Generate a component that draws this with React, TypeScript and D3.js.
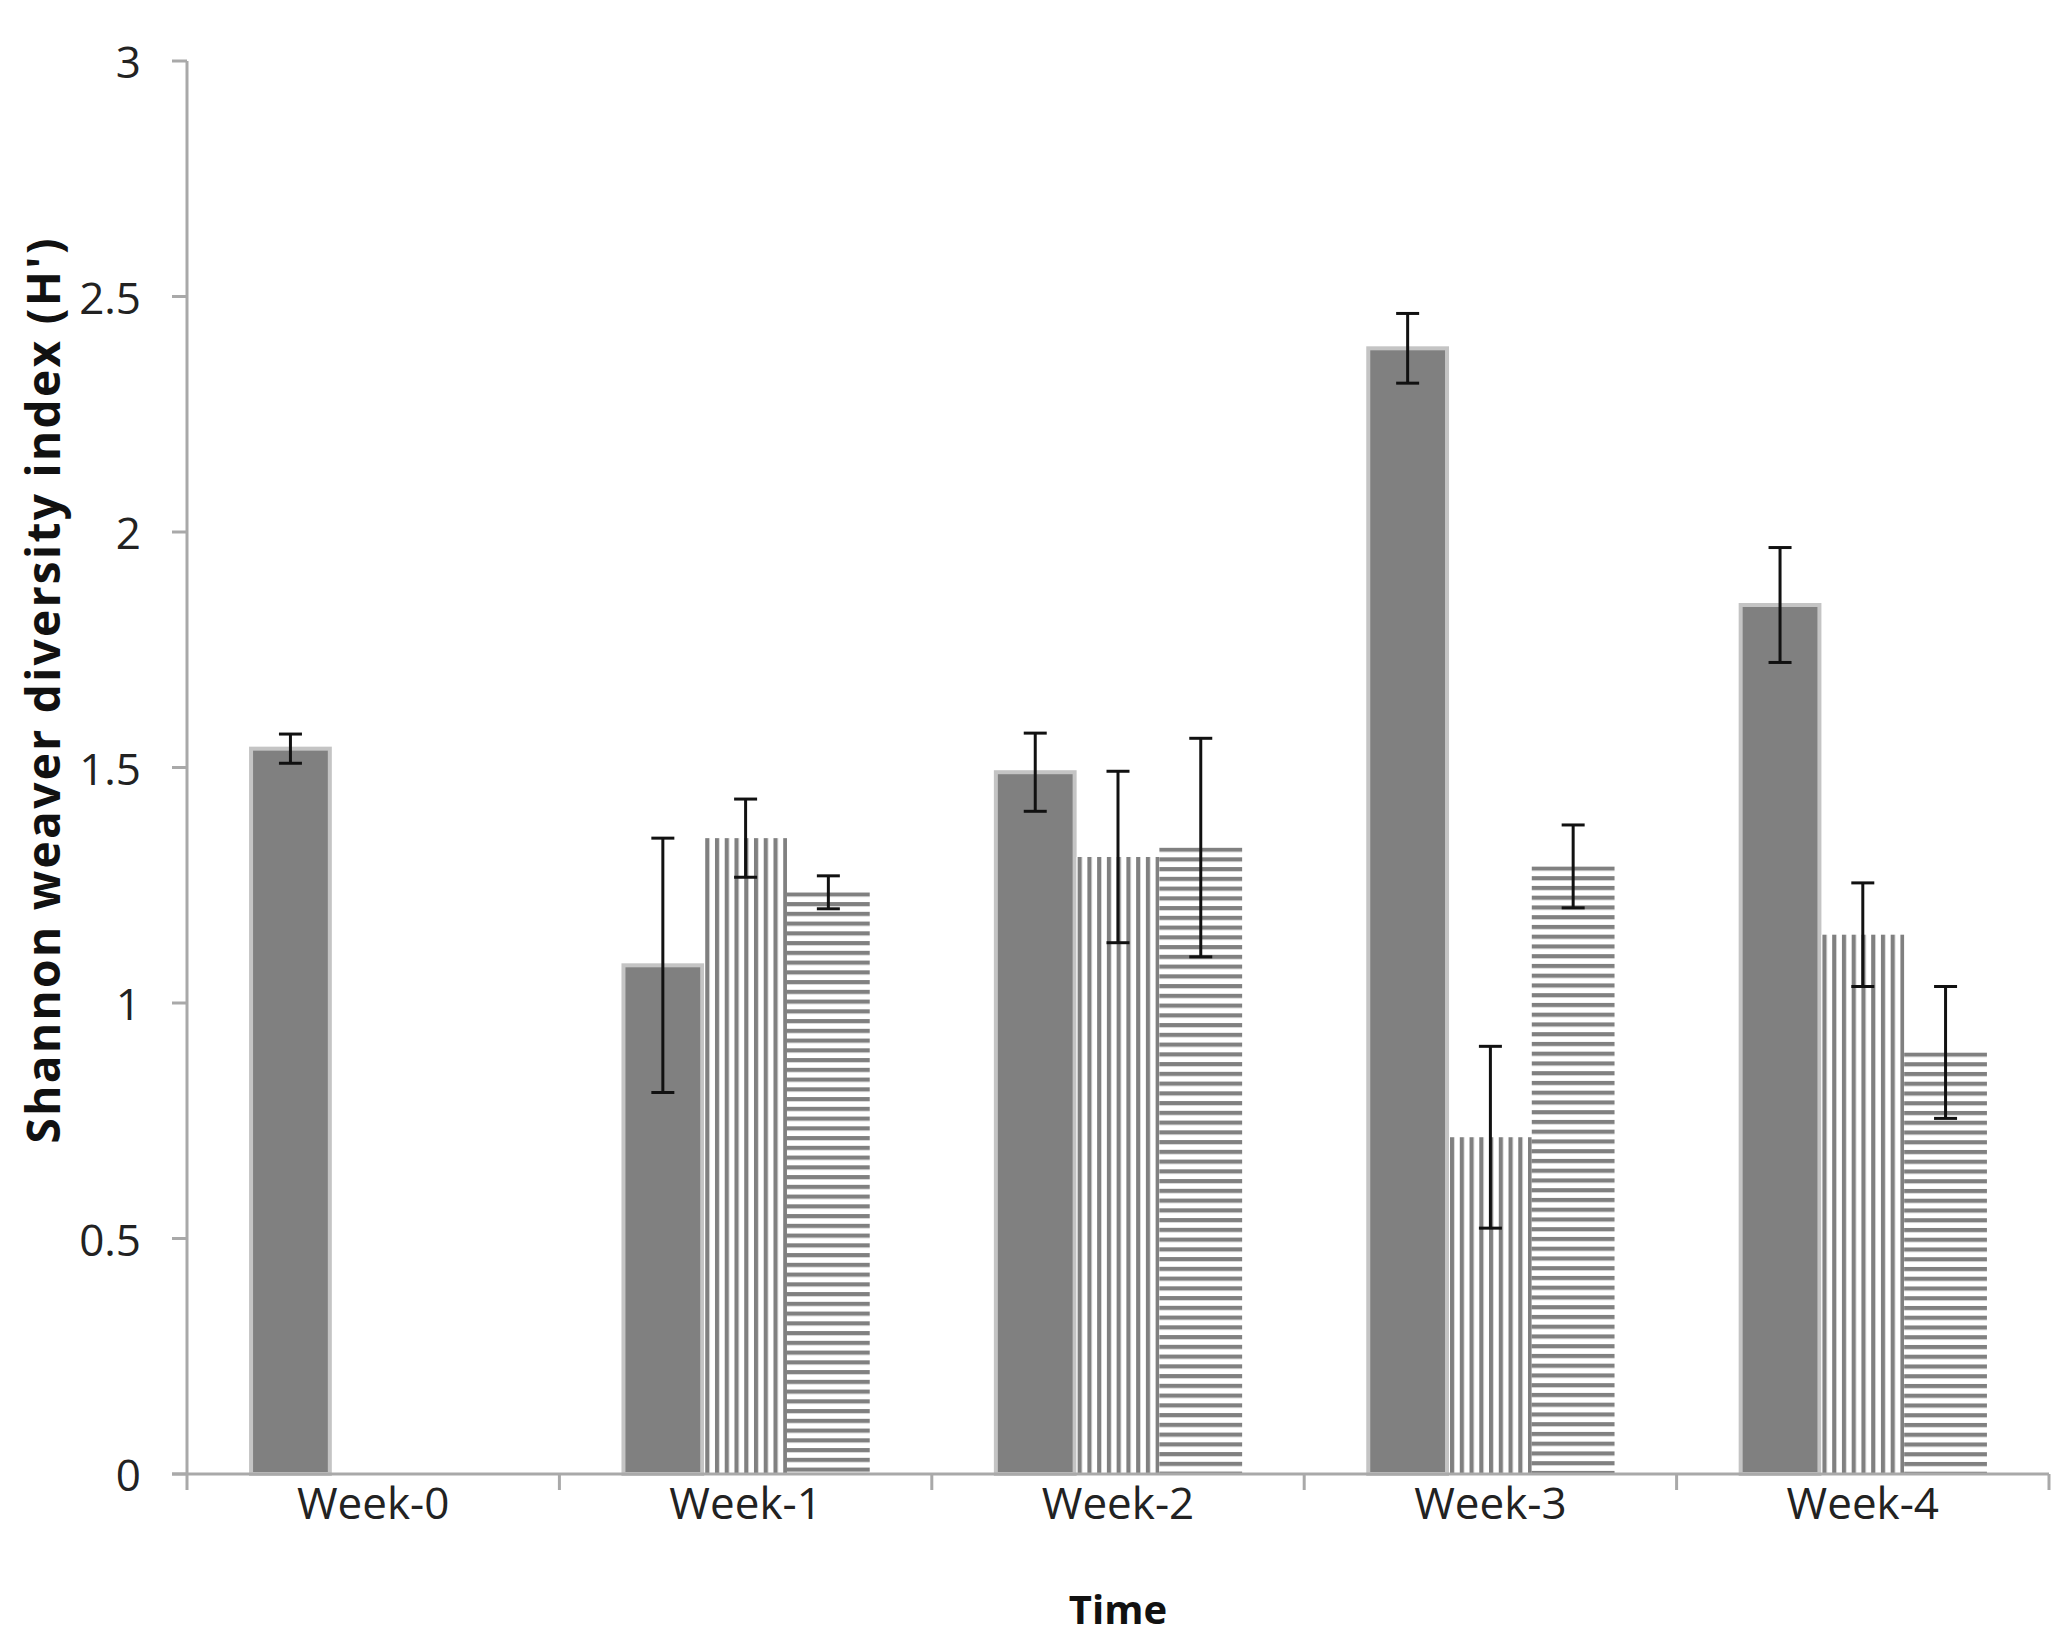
import React from "react";
import * as d3 from "d3";

const weeks = ["Week-0", "Week-1", "Week-2", "Week-3", "Week-4"];
const seriesNames = ["solid", "vertical", "horizontal"];
const solidValues = [1.54, 1.08, 1.49, 2.39, 1.845];
const solidErrors = [0.031, 0.27, 0.083, 0.074, 0.122];
const verticalValues: (number | null)[] = [null, 1.35, 1.31, 0.715, 1.145];
const verticalErrors: (number | null)[] = [null, 0.083, 0.182, 0.193, 0.11];
const horizontalValues: (number | null)[] = [null, 1.235, 1.33, 1.29, 0.895];
const horizontalErrors: (number | null)[] = [null, 0.035, 0.232, 0.088, 0.14];
const yTicks = [0, 0.5, 1, 1.5, 2, 2.5, 3];
const xTitle = "Time";
const yTitle = "Shannon weaver diversity index (H')";

const W = 2067;
const H = 1645;
const left = 187;
const right = 2049;
const top = 61;
const bottom = 1474;
const FONT = "'Open Sans', 'DejaVu Sans', sans-serif";

export default function App() {
  const x = d3.scaleBand<string>().domain(weeks).range([left, right]).padding(0);
  const catW = x.bandwidth();
  const barW = catW / 4.5;
  const inner = d3
    .scaleBand<string>()
    .domain(seriesNames)
    .range([barW * 0.75, catW - barW * 0.75])
    .padding(0);
  const y = d3.scaleLinear().domain([0, 3]).range([bottom, top]);

  const table = [
    { name: "solid", values: solidValues, errors: solidErrors },
    { name: "vertical", values: verticalValues, errors: verticalErrors },
    { name: "horizontal", values: horizontalValues, errors: horizontalErrors },
  ];

  const bars: any[] = [];
  table.forEach((s) => {
    weeks.forEach((wk, i) => {
      const v = s.values[i];
      if (v == null) return;
      const bx = (x(wk) as number) + (inner(s.name) as number);
      bars.push({ key: `${s.name}-${i}`, name: s.name, x: bx, w: inner.bandwidth(), v, e: s.errors[i] as number });
    });
  });

  const axisColor = "#a9a9a9";
  const stripe = "#808080";
  const pitch = 9.75;

  return (
    <svg
      width={W}
      height={H}
      style={{ position: "absolute", left: 0, top: 0, background: "#fff" }}
      xmlns="http://www.w3.org/2000/svg"
    >
      <rect x={0} y={0} width={W} height={H} fill="#fff" />
      <defs>
        {bars
          .filter((b) => b.name !== "solid")
          .map((b) => {
            const yTop = y(b.v);
            if (b.name === "vertical") {
              return (
                <pattern
                  key={b.key}
                  id={`pat-${b.key}`}
                  patternUnits="userSpaceOnUse"
                  x={b.x + 1}
                  y={0}
                  width={pitch}
                  height={20}
                >
                  <rect x={0} y={0} width={pitch} height={20} fill="#fff" />
                  <rect x={0} y={0} width={4.2} height={20} fill={stripe} />
                </pattern>
              );
            }
            return (
              <pattern
                key={b.key}
                id={`pat-${b.key}`}
                patternUnits="userSpaceOnUse"
                x={0}
                y={yTop}
                width={20}
                height={pitch}
              >
                <rect x={0} y={0} width={20} height={pitch} fill="#fff" />
                <rect x={0} y={0} width={20} height={4.2} fill={stripe} />
              </pattern>
            );
          })}
      </defs>

      {/* bars */}
      {bars.map((b) => {
        const yTop = y(b.v);
        if (b.name === "solid") {
          return (
            <rect
              key={b.key}
              x={b.x + 2}
              y={yTop}
              width={b.w - 4}
              height={bottom - yTop}
              fill="#808080"
              stroke="#c4c4c4"
              strokeWidth={4}
            />
          );
        }
        return (
          <rect
            key={b.key}
            x={b.x}
            y={yTop}
            width={b.w}
            height={bottom - yTop}
            fill={`url(#pat-${b.key})`}
          />
        );
      })}

      {/* axes */}
      <g stroke={axisColor} strokeWidth={3} fill="none">
        <line x1={left} y1={top} x2={left} y2={bottom + 16} />
        <line x1={left - 15} y1={bottom} x2={right} y2={bottom} />
        {yTicks.map((t) => (
          <line key={t} x1={left - 15} y1={y(t)} x2={left} y2={y(t)} />
        ))}
        {weeks.map((wk) => (
          <line key={wk} x1={(x(wk) as number) + catW} y1={bottom} x2={(x(wk) as number) + catW} y2={bottom + 16} />
        ))}
      </g>

      {/* error bars */}
      <g stroke="#111" strokeWidth={3}>
        {bars.map((b) => {
          const cx = b.x + b.w / 2;
          const y1 = y(b.v + b.e);
          const y2 = y(b.v - b.e);
          return (
            <g key={`e-${b.key}`}>
              <line x1={cx} y1={y1} x2={cx} y2={y2} />
              <line x1={cx - 11.5} y1={y1} x2={cx + 11.5} y2={y1} />
              <line x1={cx - 11.5} y1={y2} x2={cx + 11.5} y2={y2} />
            </g>
          );
        })}
      </g>

      {/* tick labels */}
      <g fontFamily={FONT} fontSize={44} fill="#222">
        {yTicks.map((t) => (
          <text key={t} x={141} y={y(t)} textAnchor="end" dominantBaseline="central">
            {String(t)}
          </text>
        ))}
        {weeks.map((wk) => (
          <text key={wk} x={(x(wk) as number) + catW / 2} y={1519} textAnchor="middle">
            {wk}
          </text>
        ))}
      </g>

      {/* titles */}
      <text
        x={(left + right) / 2}
        y={1624}
        textAnchor="middle"
        fontFamily={FONT}
        fontWeight="bold"
        fontSize={40}
        fill="#111"
      >
        {xTitle}
      </text>
      <text
        transform={`translate(60, ${691}) rotate(-90)`}
        textAnchor="middle"
        fontFamily={FONT}
        fontWeight="bold"
        fontSize={46}
        textLength={905}
        lengthAdjust="spacing"
        fill="#111"
      >
        {yTitle}
      </text>
    </svg>
  );
}
